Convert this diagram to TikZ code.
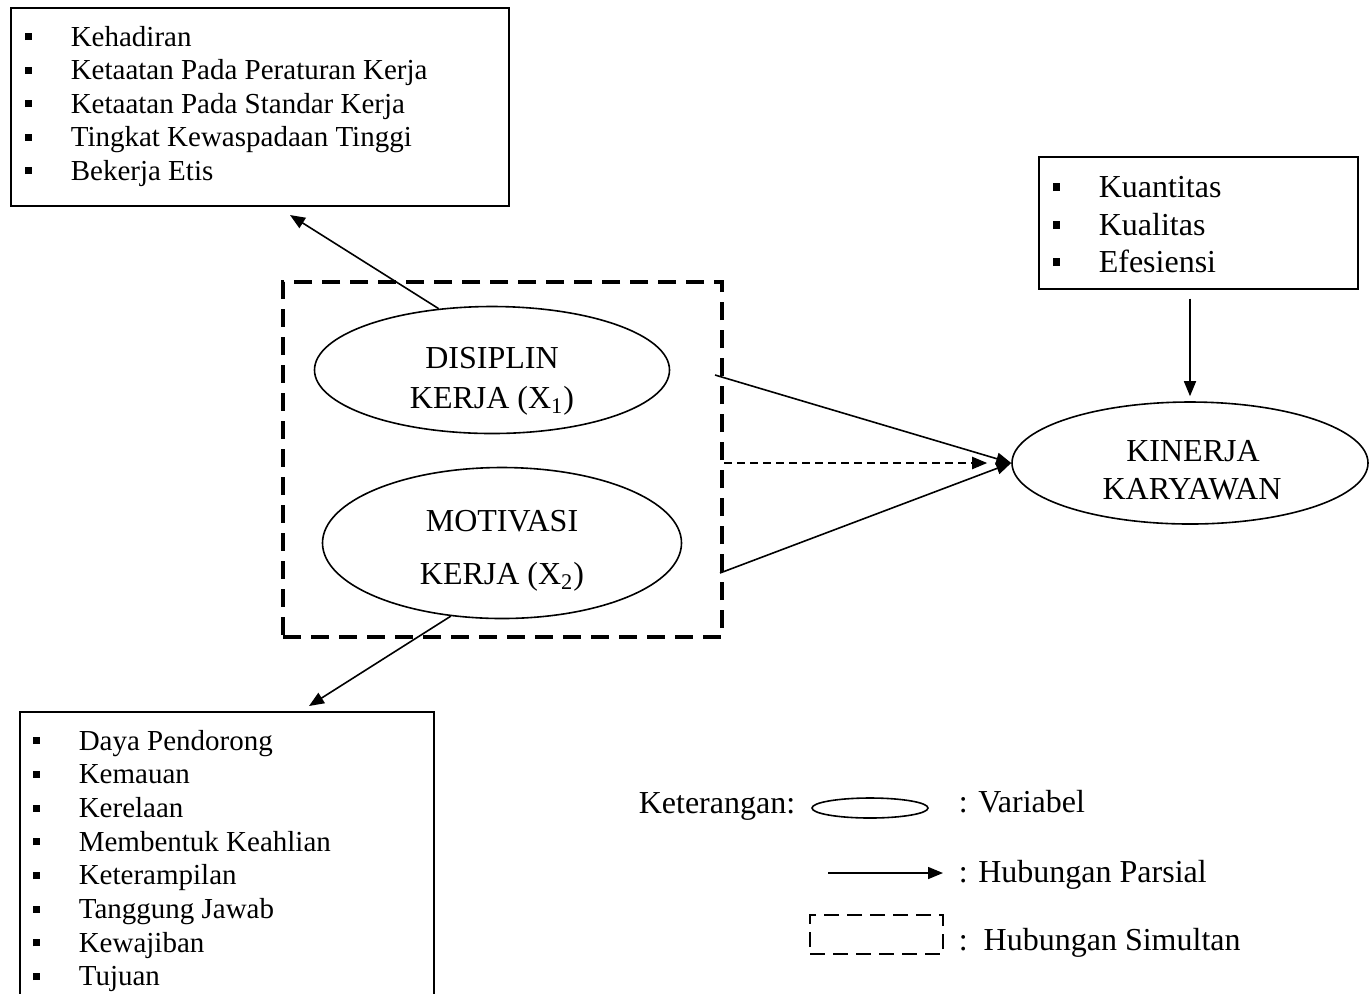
\documentclass[tikz,border=0pt]{standalone}
\usepackage{fontspec}
\setmainfont{Liberation Serif}
\usetikzlibrary{arrows.meta,shapes.geometric}
\newcommand{\bul}[1]{\makebox[23pt][l]{\rule[0.2em]{0.24em}{0.24em}}#1}
\tikzset{
  indbox/.style={draw, anchor=north west, inner sep=0pt},
  itemline/.style={anchor=base west, inner sep=0pt, font=\fontsize{14.5}{17}\selectfont},
  bigline/.style={anchor=base west, inner sep=0pt, font=\fontsize{16}{19}\selectfont},
  varnode/.style={draw, ellipse, inner sep=0pt},
  varlbl/.style={anchor=base, inner sep=0pt, font=\fontsize{16}{19}\selectfont},
}
\begin{document}
\begin{tikzpicture}[x=0.5pt, y=-0.5pt, line width=0.8pt, >={Triangle[length=7.5pt,width=6pt]}]
        \clip (0,0) rectangle (1370,993);
        % indikator
        \node[indbox, minimum width=249pt, minimum height=99pt] (indx1) at (10,7) {};
        \node[indbox, minimum width=207pt, minimum height=160pt] (indx2) at (19,711) {};
        \node[indbox, minimum width=159.5pt, minimum height=66pt] (indy) at (1038,156) {};
        \foreach \txt [count=\i] in {Kehadiran, Ketaatan Pada Peraturan Kerja, Ketaatan Pada Standar Kerja, Tingkat Kewaspadaan Tinggi, Bekerja Etis}
            \node[itemline] (ix1\i) at (24,{12.5+33.5*\i}) {\bul{\txt}};
        \foreach \txt [count=\i] in {Daya Pendorong, Kemauan, Kerelaan, Membentuk Keahlian, Keterampilan, Tanggung Jawab, Kewajiban, Tujuan}
            \node[itemline] (ix2\i) at (32,{716.3+33.7*\i}) {\bul{\txt}};
        \foreach \txt [count=\i] in {Kuantitas, Kualitas, Efesiensi}
            \node[bigline] (iy\i) at (1052,{160+37.5*\i}) {\bul{\txt}};
        % variabel
        \node[draw, line width=2pt, dash pattern=on 9pt off 5pt, minimum width=219.5pt, minimum height=177.5pt, inner sep=0pt] (simultan) at (502.5,459.5) {};
        \node[varnode, minimum width=177.5pt, minimum height=63.5pt] (disiplin) at (492,370) {};
        \node[varnode, minimum width=179.5pt, minimum height=75.5pt] (motivasi) at (502,543) {};
        \node[varnode, minimum width=178pt, minimum height=61pt] (kinerja) at (1190,463) {};
        \node[varlbl] (dis1) at (492,368) {DISIPLIN};
        \node[varlbl] (dis2) at (492,408) {KERJA (X\textsubscript{1})};
        \node[varlbl] (mot1) at (502,531) {MOTIVASI};
        \node[varlbl] (mot2) at (502,584) {KERJA (X\textsubscript{2})};
        \node[varlbl] (kin1) at (1193,461) {KINERJA};
        \node[varlbl] (kin2) at (1192,499) {KARYAWAN};
        % hubungan
        \coordinate (x1tip) at (290,215);
        \coordinate (x2tip) at (309,706);
        \coordinate (d1) at (715,375);
        \coordinate (m1) at (720,573);
        \draw[->] (disiplin.131) -- (x1tip);
        \draw[->] (motivasi.235) -- (x2tip);
        \draw[->] (d1) -- (kinerja.west);
        \draw[->] (m1) -- (kinerja.west);
        \draw[->, line width=1pt, dash pattern=on 4pt off 2.5pt, shorten >=12pt] (simultan.east |- kinerja.west) -- (kinerja.west);
        \draw[->, shorten <=4.5pt, shorten >=2.5pt] (indy.south -| kinerja.north) -- (kinerja.north);
        % keterangan
        \node[bigline] (ket) at (638,813) {Keterangan:};
        \node[varnode, minimum width=58pt, minimum height=10pt] (lgvar) at (870,808) {};
        \node[bigline] (lgvartxt) at (958,812) {: Variabel};
        \coordinate (lgpa) at (828,873);
        \coordinate (lgpb) at (943,873);
        \draw[->] (lgpa) -- (lgpb);
        \node[bigline] (lgpartxt) at (958,882) {: Hubungan Parsial};
        \node[draw, line width=1.2pt, dash pattern=on 7.5pt off 4pt, minimum width=66.5pt, minimum height=19.5pt, inner sep=0pt] (lgsim) at (876.5,934.5) {};
        \node[bigline] (lgsimtxt) at (958,950) {:\ \ Hubungan Simultan};
\end{tikzpicture}
\end{document}
